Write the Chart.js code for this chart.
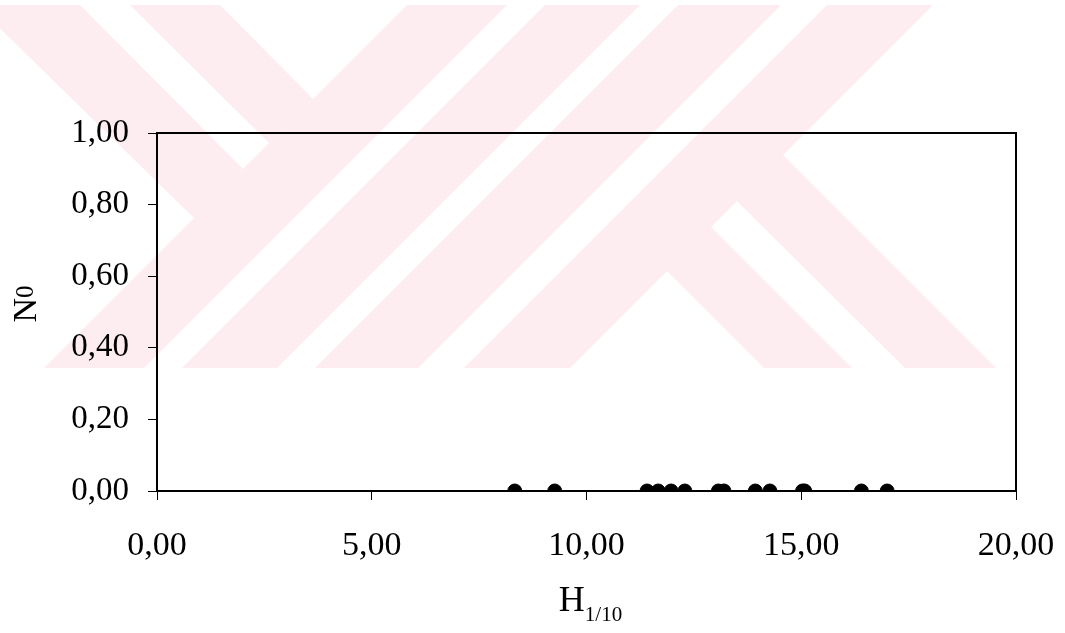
<!DOCTYPE html>
<html>
<head>
<meta charset="utf-8">
<script src="https://cdn.jsdelivr.net/npm/chart.js@4.4.1/dist/chart.umd.min.js"></script>
<style>
  html, body { margin: 0; padding: 0; background: #fff; }
  #wrap { width: 1065px; height: 633px; }
</style>
</head>
<body>
<div id="wrap"><canvas id="c" width="1065" height="633"></canvas></div>
<script>
// H1/10 values, all points lie on N0 = 0
var hValues = [8.33, 9.26, 11.41, 11.67, 11.97, 12.29, 13.07, 13.20, 13.93, 14.27, 15.03, 15.08, 16.40, 17.00];
var nValues = [0, 0, 0, 0, 0, 0, 0, 0, 0, 0, 0, 0, 0, 0];
var xTicks = [0, 5, 10, 15, 20];
var yTicks = [0, 0.2, 0.4, 0.6, 0.8, 1.0];
var xTitle = ['H', '1/10'];
var yTitle = ['N', '0'];

var serif = '"Liberation Serif", "Times New Roman", serif';

function fmt(v) {
  return Number(v).toFixed(2).replace('.', ',');
}

var points = hValues.map(function (h, i) { return { x: h, y: nValues[i] }; });

// pale background logo of the scanned page (not data)
var watermark = {
  id: 'watermark',
  beforeDraw: function (chart) {
    var ctx = chart.ctx;
    ctx.save();
    ctx.fillStyle = '#fff';
    ctx.fillRect(0, 0, chart.width, chart.height);
    ctx.fillStyle = '#fdecf0';
    var top = 5, bot = 368;
    var polys = [];
    // "/" bands, given as x+y ranges
    [[412, 512], [550, 645], [683, 786], [832, 938]].forEach(function (b) {
      polys.push([[b[0] - top, top], [b[1] - top, top], [b[1] - bot, bot], [b[0] - bot, bot]]);
    });
    // "\" bands on the upper left
    polys.push([[-24, top], [80, top], [243, 169], [194, 218]]);
    polys.push([[130, top], [220, top], [313, 99], [269, 143]]);
    // "\" bands on the lower right
    polys.push([[666, 270], [710, 226], [852, bot], [764, bot]]);
    polys.push([[736, 200], [782, 154], [996, bot], [905, bot]]);
    polys.forEach(function (p) {
      ctx.beginPath();
      ctx.moveTo(p[0][0], p[0][1]);
      for (var i = 1; i < p.length; i++) ctx.lineTo(p[i][0], p[i][1]);
      ctx.closePath();
      ctx.fill();
    });
    ctx.restore();
  }
};

var frame = {
  id: 'frame',
  beforeDatasetsDraw: function (chart) {
    var a = chart.chartArea, ctx = chart.ctx;
    ctx.save();
    ctx.strokeStyle = '#000';
    ctx.lineWidth = 2;
    ctx.strokeRect(a.left, a.top, a.right - a.left, a.bottom - a.top);
    ctx.restore();
  }
};

var titles = {
  id: 'titles',
  afterDraw: function (chart) {
    var ctx = chart.ctx, a = chart.chartArea;
    ctx.save();
    ctx.fillStyle = '#000';
    ctx.textBaseline = 'alphabetic';
    ctx.textAlign = 'left';
    // x title
    ctx.font = '36px ' + serif;
    var w1 = ctx.measureText(xTitle[0]).width;
    ctx.font = '21px ' + serif;
    var w2 = ctx.measureText(xTitle[1]).width;
    var cx = (a.left + a.right) / 2;
    var x0 = cx - (w1 + w2) / 2 + 4;
    ctx.font = '36px ' + serif;
    ctx.fillText(xTitle[0], x0, 611);
    ctx.font = '21px ' + serif;
    ctx.fillText(xTitle[1], x0 + w1, 621);
    // y title, rotated
    ctx.translate(36, 304);
    ctx.rotate(-Math.PI / 2);
    ctx.font = '34px ' + serif;
    var n1 = ctx.measureText(yTitle[0]).width;
    ctx.font = '25px ' + serif;
    var n2 = ctx.measureText(yTitle[1]).width;
    var s = -(n1 + n2) / 2;
    ctx.font = '34px ' + serif;
    ctx.fillText(yTitle[0], s, 0);
    ctx.font = '25px ' + serif;
    ctx.fillText(yTitle[1], s + n1, -3);
    ctx.restore();
  }
};

new Chart(document.getElementById('c'), {
  type: 'scatter',
  data: {
    datasets: [{
      data: points,
      backgroundColor: '#000',
      borderColor: '#000',
      pointRadius: 7,
      pointHoverRadius: 7,
      pointStyle: 'circle'
    }]
  },
  options: {
    responsive: false,
    animation: false,
    layout: { padding: { top: 133, right: 49, left: 0, bottom: 0 } },
    plugins: { legend: { display: false }, tooltip: { enabled: false } },
    scales: {
      x: {
        type: 'linear',
        min: 0,
        max: 20,
        afterBuildTicks: function (s) { s.ticks = xTicks.map(function (v) { return { value: v }; }); },
        afterFit: function (s) { s.height = 142; s.paddingLeft = 0; s.paddingRight = 0; },
        grid: { drawOnChartArea: false, drawTicks: true, tickLength: 9, tickColor: '#000', tickWidth: 1 },
        border: { display: true, color: '#000', width: 2 },
        ticks: {
          color: '#000',
          font: { family: serif, size: 34 },
          padding: 26,
          maxRotation: 0,
          callback: function (v) { return fmt(v); }
        }
      },
      y: {
        type: 'linear',
        min: 0,
        max: 1,
        afterBuildTicks: function (s) { s.ticks = yTicks.map(function (v) { return { value: v }; }); },
        afterFit: function (s) { s.width = 157; s.paddingTop = 0; s.paddingBottom = 0; },
        grid: { drawOnChartArea: false, drawTicks: true, tickLength: 9, tickColor: '#000', tickWidth: 1 },
        border: { display: true, color: '#000', width: 2 },
        ticks: {
          color: '#000',
          font: { family: serif, size: 33 },
          padding: 19,
          callback: function (v) { return fmt(v); }
        }
      }
    }
  },
  plugins: [watermark, frame, titles]
});
</script>
</body>
</html>
